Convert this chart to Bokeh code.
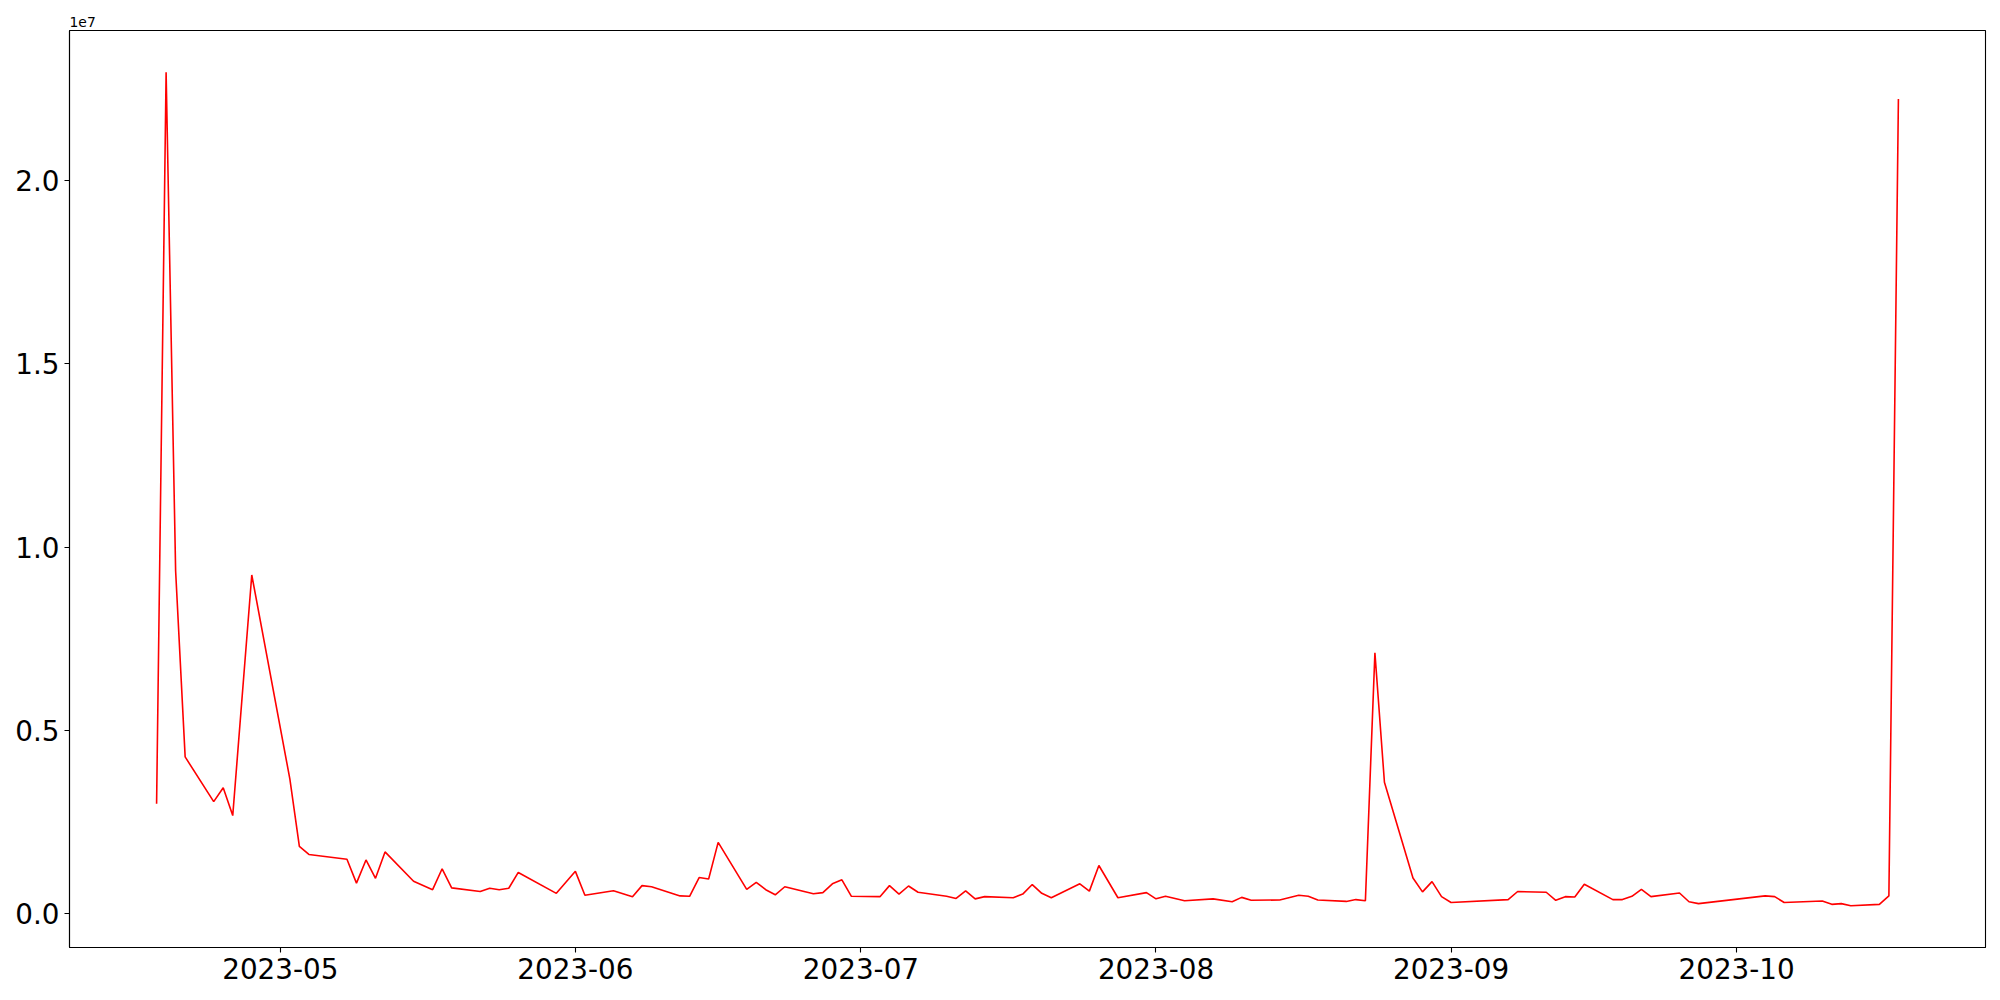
import pandas as pd
from bokeh.plotting import figure
from bokeh.models import (Range1d, DatetimeTickFormatter, MonthsTicker, FixedTicker,
                          CustomJSTickFormatter, ColumnDataSource)
from bokeh.embed import file_html
from bokeh.resources import INLINE

dates = [
    "2023-04-18", "2023-04-19", "2023-04-20", "2023-04-21", "2023-04-24", "2023-04-25",
    "2023-04-26", "2023-04-28", "2023-05-02", "2023-05-03", "2023-05-04", "2023-05-08",
    "2023-05-09", "2023-05-10", "2023-05-11", "2023-05-12", "2023-05-15", "2023-05-17",
    "2023-05-18", "2023-05-19", "2023-05-22", "2023-05-23", "2023-05-24", "2023-05-25",
    "2023-05-26", "2023-05-30", "2023-06-01", "2023-06-02", "2023-06-05", "2023-06-07",
    "2023-06-08", "2023-06-09", "2023-06-12", "2023-06-13", "2023-06-14", "2023-06-15",
    "2023-06-16", "2023-06-19", "2023-06-20", "2023-06-21", "2023-06-22", "2023-06-23",
    "2023-06-26", "2023-06-27", "2023-06-28", "2023-06-29", "2023-06-30", "2023-07-03",
    "2023-07-04", "2023-07-05", "2023-07-06", "2023-07-07", "2023-07-10", "2023-07-11",
    "2023-07-12", "2023-07-13", "2023-07-14", "2023-07-17", "2023-07-18", "2023-07-19",
    "2023-07-20", "2023-07-21", "2023-07-24", "2023-07-25", "2023-07-26", "2023-07-28",
    "2023-07-31", "2023-08-01", "2023-08-02", "2023-08-04", "2023-08-07", "2023-08-09",
    "2023-08-10", "2023-08-11", "2023-08-14", "2023-08-16", "2023-08-17", "2023-08-18",
    "2023-08-21", "2023-08-22", "2023-08-23", "2023-08-24", "2023-08-25", "2023-08-28",
    "2023-08-29", "2023-08-30", "2023-08-31", "2023-09-01", "2023-09-07", "2023-09-08",
    "2023-09-11", "2023-09-12", "2023-09-13", "2023-09-14", "2023-09-15", "2023-09-18",
    "2023-09-19", "2023-09-20", "2023-09-21", "2023-09-22", "2023-09-25", "2023-09-26",
    "2023-09-27", "2023-10-04", "2023-10-05", "2023-10-06", "2023-10-10", "2023-10-11",
    "2023-10-12", "2023-10-13", "2023-10-16", "2023-10-17", "2023-10-18",
]

values = [
    3.00e6, 22.95e6, 9.35e6, 4.28e6, 3.06e6, 3.44e6,
    2.68e6, 9.24e6, 3.68e6, 1.84e6, 1.62e6, 1.49e6,
    0.84e6, 1.47e6, 0.97e6, 1.69e6, 0.89e6, 0.66e6,
    1.23e6, 0.71e6, 0.61e6, 0.70e6, 0.66e6, 0.70e6,
    1.13e6, 0.56e6, 1.16e6, 0.51e6, 0.63e6, 0.47e6,
    0.77e6, 0.74e6, 0.49e6, 0.48e6, 0.99e6, 0.95e6,
    1.95e6, 0.67e6, 0.86e6, 0.66e6, 0.52e6, 0.74e6,
    0.55e6, 0.58e6, 0.82e6, 0.93e6, 0.48e6, 0.47e6,
    0.77e6, 0.54e6, 0.76e6, 0.59e6, 0.48e6, 0.42e6,
    0.63e6, 0.41e6, 0.47e6, 0.44e6, 0.54e6, 0.80e6,
    0.56e6, 0.44e6, 0.82e6, 0.62e6, 1.32e6, 0.44e6,
    0.58e6, 0.41e6, 0.48e6, 0.36e6, 0.41e6, 0.33e6,
    0.45e6, 0.37e6, 0.38e6, 0.51e6, 0.48e6, 0.38e6,
    0.34e6, 0.39e6, 0.36e6, 7.12e6, 3.59e6, 0.98e6,
    0.60e6, 0.88e6, 0.47e6, 0.31e6, 0.39e6, 0.61e6,
    0.59e6, 0.37e6, 0.47e6, 0.46e6, 0.81e6, 0.39e6,
    0.39e6, 0.48e6, 0.67e6, 0.47e6, 0.57e6, 0.33e6,
    0.28e6, 0.49e6, 0.47e6, 0.31e6, 0.35e6, 0.26e6,
    0.28e6, 0.22e6, 0.26e6, 0.49e6, 22.22e6,
]

y_ticks = [0, 5e6, 10e6, 15e6, 20e6]
offset_text = "1e7"

x = pd.to_datetime(dates)
source = ColumnDataSource(data=dict(x=x, y=values))

# matplotlib-like 5% margins
x0, x1 = x.min(), x.max()
xpad = (x1 - x0) * 0.05
vmin, vmax = min(values), max(values)
ypad = (vmax - vmin) * 0.05

FONT = "DejaVu Sans"

p = figure(width=1992, height=992, output_backend="svg", toolbar_location=None,
           x_axis_type="datetime",
           x_range=Range1d(x0 - xpad, x1 + xpad),
           y_range=Range1d(vmin - ypad, vmax + ypad),
           min_border_left=69, min_border_right=7, min_border_top=30, min_border_bottom=45)

p.line("x", "y", source=source, line_color="#ff0000", line_width=1.6)

p.grid.visible = False
p.outline_line_color = "black"
p.outline_line_width = 1.1
p.background_fill_color = "white"
p.border_fill_color = "white"

p.title.text = offset_text
p.title.align = "left"
p.title.text_font = FONT
p.title.text_font_size = "13.9px"
p.title.text_font_style = "normal"
p.title.text_color = "black"
p.title.standoff = 7

p.xaxis.ticker = MonthsTicker(months=list(range(1, 13)))
p.xaxis.formatter = DatetimeTickFormatter(days="%Y-%m", months="%Y-%m", years="%Y-%m")
p.yaxis.ticker = FixedTicker(ticks=y_ticks)
p.yaxis.formatter = CustomJSTickFormatter(code="return (tick/1e7).toFixed(1);")

for ax in (p.xaxis, p.yaxis):
    ax.major_label_text_font = FONT
    ax.major_label_text_font_size = "27.8px"
    ax.major_label_text_color = "black"
    ax.axis_line_color = "black"
    ax.axis_line_width = 1.1
    ax.major_tick_line_color = "black"
    ax.major_tick_line_width = 1.1
    ax.major_tick_out = 5
    ax.major_tick_in = 0
    ax.minor_tick_line_color = None
    ax.major_label_standoff = 5

open("out.html", "w").write(file_html(p, INLINE))
